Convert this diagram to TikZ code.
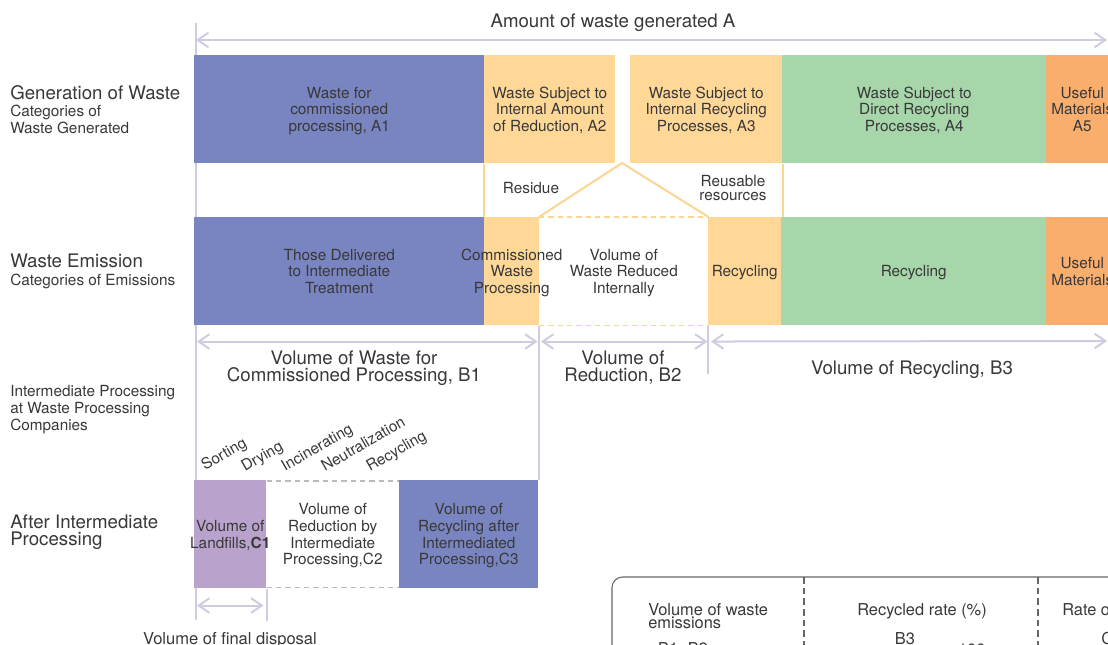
\documentclass[tikz,border=0pt]{standalone}
\usepackage{fontspec}
\setmainfont{TeX Gyre Heros}
\usepackage{xcolor}
\usetikzlibrary{arrows.meta}

\definecolor{cellblue}{HTML}{7985C1}
\definecolor{cellsand}{HTML}{FFD898}
\definecolor{cellgreen}{HTML}{A7D6AA}
\definecolor{cellorange}{HTML}{F9AE6E}
\definecolor{celllilac}{HTML}{B9A3CD}
\definecolor{dimgray}{HTML}{CDCCE0}
\definecolor{roofline}{HTML}{FCD592}
\definecolor{inkgray}{HTML}{383838}

\newcommand{\boxfont}{\fontsize{11.5}{12.5}\selectfont}
\newcommand{\headfont}{\fontsize{14}{12.8}\selectfont}
\newcommand{\subfont}{\fontsize{11.5}{12.6}\selectfont}
\newcommand{\tablefont}{\fontsize{12.3}{10}\selectfont}

\begin{document}
\begin{tikzpicture}[x=0.75pt, y=-0.75pt, text=inkgray,
    >={Straight Barb[length=8pt,width=11pt]},
    cell/.style={anchor=north west, inner sep=0pt, minimum height=81pt,
      align=center, font=\boxfont, text depth=0pt},
    wide/.style={minimum width=#1*0.75pt},
    txt/.style={inner sep=0pt, align=center, font=\boxfont},
    head/.style={inner sep=0pt, align=left, font=\headfont},
    sub/.style={anchor=north west, inner sep=0pt, align=left, font=\subfont},
    dimlabel/.style={inner sep=0pt, align=center, font=\headfont},
    proc/.style={anchor=base west, inner sep=0pt, rotate=30, font=\boxfont},
    dim/.style={draw=dimgray, line width=1.5pt},
    roof/.style={draw=roofline, line width=1.5pt},
    gap/.style={draw=#1, line width=1.3pt, dash pattern=on 4pt off 3pt},
    tablerule/.style={draw=black!60, line width=0.8pt}]

  \useasboundingbox (0,0) rectangle (1108,645);
  \clip (0,0) rectangle (1108,645);

  % left edge of the whole measure
  \coordinate (top) at (196,23);
  \coordinate (foot) at (196,620);
  \coordinate (rim) at (1107,40);
  \coordinate (rim-b3) at (1107,341);
  \draw[dim] (top) -- (foot);

  % generation of waste
  \node[cell, fill=cellblue, wide=290] (a1) at (194,55) {Waste for\\commissioned\\processing, A1};
  \node[cell, fill=cellsand, wide=131] (a2) at (484,55) {Waste Subject to\\Internal Amount\\of Reduction, A2};
  \node[cell, fill=cellsand, wide=152] (a3) at (630,55) {Waste Subject to\\Internal Recycling\\Processes, A3};
  \node[cell, fill=cellgreen, wide=264] (a4) at (782,55) {Waste Subject to\\Direct Recycling\\Processes, A4};
  \node[cell, fill=cellorange, wide=72] (a5) at (1046,55) {Useful\\Materials\\A5};

  % waste emission
  \node[cell, fill=cellblue, wide=290] (b1) at (194,217) {Those Delivered\\to Intermediate\\Treatment};
  \node[cell, fill=cellsand, wide=55] (b2) at (484,217) {};
  \node[txt, text depth=0pt] (b2text) at (b2) {Commissioned\\Waste\\Processing};
  \node[cell, wide=169] (b3) at (539,217) {Volume of\\Waste Reduced\\Internally};
  \node[cell, fill=cellsand, wide=73] (b4) at (708,217) {Recycling};
  \node[cell, fill=cellgreen, wide=265] (b5) at (781,217) {Recycling};
  \node[cell, fill=cellorange, wide=72] (b6) at (1046,217) {Useful\\Materials};

  \draw[gap=roofline] (b3.north west) -- (b3.north east);
  \draw[gap=roofline] (b3.south west) -- (b3.south east);
  \coordinate (apex) at (622,163);
  \draw[roof] (b3.north west) -- (apex) -- (b3.north east);
  \draw[roof] (a2.south west) -- (b2.north west);
  \draw[roof] (a3.south east) -- (a3.south east |- b4.north);
  \node[txt, anchor=base] (residue) at (531,194) {Residue};
  \node[txt, font=\fontsize{11.5}{11}\selectfont] (reuse) at (733,188) {Reusable\\resources};

  % after intermediate processing
  \node[cell, fill=celllilac, wide=72] (c1) at (194,480) {};
  \node[txt, text depth=0pt] (c1text) at (c1) {Volume of\\Landfills,\textbf{C1}};
  \node[cell, wide=133] (c2) at (266,480) {Volume of\\Reduction by\\Intermediate\\Processing,C2};
  \node[cell, fill=cellblue, wide=139] (c3) at (399,480) {Volume of\\Recycling after\\Intermediated\\Processing,C3};
  \draw[gap=black!27] ([yshift=-0.75pt]c1.north east) -- ([yshift=-0.75pt]c3.north west);
  \draw[gap=black!27] ([yshift=0.75pt]c1.south east) -- ([yshift=0.75pt]c3.south west);

  \foreach \name/\x/\y in {Sorting/205/471, Drying/245/472, Incinerating/285/472,
      Neutralization/325/472, Recycling/370/472}
    \node[proc] (step-\name) at (\x,\y) {\name};

  % measures
  \draw[dim] (b3.south west) -- (b3.south west |- c3.north);
  \draw[dim] (b4.south west) -- ++(0,48);
  \draw[dim] (c1.south east) -- ++(0,32);
  \draw[dim, <->] (top |- rim) -- (rim);
  \draw[dim, <->] ([shift={(3,16)}]b1.south west) -- ([shift={(-2,16)}]b2.south east);
  \draw[dim, <->] ([shift={(2,16)}]b3.south west) -- ([shift={(-1,16)}]b3.south east);
  \draw[dim, <->] ([shift={(3,16)}]b4.south west) -- (rim-b3);
  \draw[dim, <->] ([shift={(3,17)}]c1.south west) -- ([shift={(-3,17)}]c1.south east);

  \node[dimlabel, anchor=base] (total) at (613,28) {Amount of waste generated A};
  \node[dimlabel] (vol-b1) at (354,368) {Volume of Waste for\\Commissioned Processing, B1};
  \node[dimlabel] (vol-b2) at (623,368) {Volume of\\Reduction, B2};
  \node[dimlabel, anchor=base] (vol-b3) at (912,375) {Volume of Recycling, B3};
  \node[txt, anchor=base, font=\fontsize{12.4}{12}\selectfont] (final) at (230,644) {Volume of final disposal};

  % row titles
  \node[head, anchor=base west] (gen) at (10,100) {Generation of Waste};
  \node[sub] (gen-sub) at (10,105) {Categories of\\Waste Generated};
  \node[head, anchor=base west] (emit) at (10,268) {Waste Emission};
  \node[sub] (emit-sub) at (10,274) {Categories of Emissions};
  \node[sub] (mid) at (10,385) {Intermediate Processing\\at Waste Processing\\Companies};
  \node[head, anchor=north west] (after) at (10,514.5) {After Intermediate\\Processing};

  % rates table
  \coordinate (tbl) at (612,577);
  \draw[tablerule, rounded corners=8pt] (tbl |- 0,700) -- (tbl) -- (1150,577);
  \draw[tablerule, dash pattern=on 5pt off 3pt] (804,577) -- (804,700);
  \draw[tablerule, dash pattern=on 5pt off 3pt] (1038,577) -- (1038,700);
  \node[anchor=north west, inner sep=0pt, align=left, font=\tablefont] (emis) at (648,603) {Volume of waste\\emissions};
  \node[anchor=base, inner sep=0pt, font=\tablefont] (rate) at (922,615) {Recycled rate (\%)};
  \node[anchor=base west, inner sep=0pt, font=\tablefont] (final-rate) at (1062,615) {Rate of final disposal (\%)};
  \node[anchor=base, inner sep=0pt, font=\tablefont] (sum-b) at (683,654) {B1+B2};
  \node[anchor=base, inner sep=0pt, font=\tablefont] (num-b3) at (905,644.5) {B3};
  \node[anchor=base, inner sep=0pt, font=\tablefont] (times) at (967,655) {×100};
  \node[anchor=base west, inner sep=0pt, font=\tablefont] (num-c1) at (1101,644.5) {C1};
\end{tikzpicture}
\end{document}
